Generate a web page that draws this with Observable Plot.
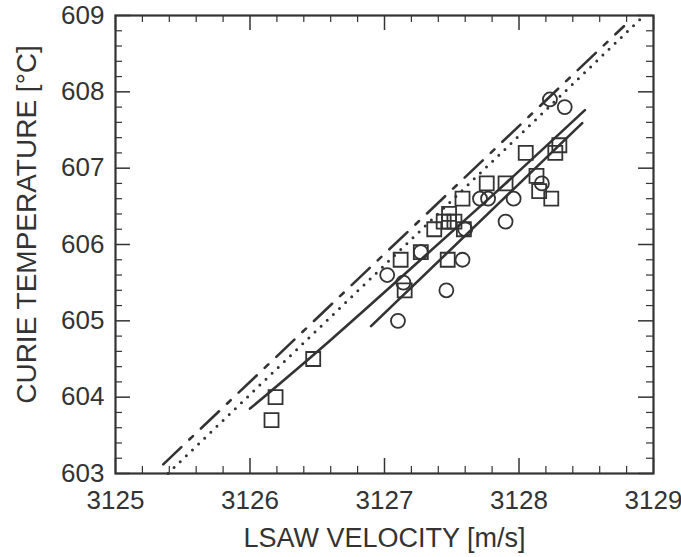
<!DOCTYPE html>
<html><head><meta charset="utf-8">
<script src="https://cdn.jsdelivr.net/npm/d3@7"></script>
<script src="https://cdn.jsdelivr.net/npm/@observablehq/plot@0.6"></script>
<style>body{margin:0;background:#fff}</style>
</head><body><div id="chart"></div>
<script>
// Squares
const squareX = [3126.16,3126.19,3126.47,3127.12,3127.15,3127.27,3127.37,3127.47,3127.44,3127.48,3127.52,3127.48,3127.58,3127.59,3127.76,3127.90,3128.05,3128.13,3128.15,3128.24,3128.27,3128.30];
const squareY = [603.7,604.0,604.5,605.8,605.4,605.9,606.2,605.8,606.3,606.3,606.3,606.4,606.6,606.2,606.8,606.8,607.2,606.9,606.7,606.6,607.2,607.3];
// Circles
const circleX = [3127.02,3127.10,3127.14,3127.27,3127.46,3127.58,3127.60,3127.71,3127.77,3127.96,3127.90,3128.17,3128.23,3128.34];
const circleY = [605.6,605.0,605.5,605.9,605.4,605.8,606.2,606.6,606.6,606.6,606.3,606.8,607.9,607.8];
// Lines
const dashDotX = [3125.355,3128.78];
const dashDotY = [603.12,608.86];
const dottedX = [3125.39,3128.93];
const dottedY = [603.0,609.0];
const curveX = [3126.0,3126.6,3127.3,3127.9,3128.49];
const curveY = [603.85,604.75,605.85,606.8,607.76];
const straightX = [3126.90,3128.47];
const straightY = [604.93,607.59];
// Ticks
const xMajor = [3125,3126,3127,3128,3129];
const yMajor = [603,604,605,606,607,608,609];
const xMinor = d3.range(3125.2,3129,0.2).filter(v => Math.abs(v-Math.round(v))>0.05);
const yMinor = d3.range(603.2,609,0.2).filter(v => Math.abs(v-Math.round(v))>0.05);
const xTitle = "LSAW VELOCITY [m/s]";
const yTitle = "CURIE TEMPERATURE [°C]";

const W=681,H=557,mL=115,mR=28,mT=15,mB=84;
const iW=W-mL-mR, iH=H-mT-mB;
const ink="#333";
const majL=15, minL=7;
const fs=26;

const chart = Plot.plot({
  width:W, height:H, marginLeft:mL, marginRight:mR, marginTop:mT, marginBottom:mB,
  x:{domain:[3125,3129]}, y:{domain:[603,609]},
  style:{fontFamily:"'Liberation Sans', Arial, sans-serif", fontSize:fs+"px", color:ink, background:"#fff", overflow:"visible"},
  marks:[
    Plot.tickX(xMajor,{x:d=>d, insetTop:iH-majL, stroke:ink, strokeWidth:1.5}),
    Plot.tickX(xMinor,{x:d=>d, insetTop:iH-minL, stroke:ink, strokeWidth:1.2}),
    Plot.tickX(xMajor,{x:d=>d, insetBottom:iH-majL, stroke:ink, strokeWidth:1.5}),
    Plot.tickX(xMinor,{x:d=>d, insetBottom:iH-minL, stroke:ink, strokeWidth:1.2}),
    Plot.tickY(yMajor,{y:d=>d, insetRight:iW-majL, stroke:ink, strokeWidth:1.5}),
    Plot.tickY(yMinor,{y:d=>d, insetRight:iW-minL, stroke:ink, strokeWidth:1.2}),
    Plot.tickY(yMajor,{y:d=>d, insetLeft:iW-majL, stroke:ink, strokeWidth:1.5}),
    Plot.tickY(yMinor,{y:d=>d, insetLeft:iW-minL, stroke:ink, strokeWidth:1.2}),
    Plot.axisX(xMajor,{tickSize:0, tickPadding:17, tickFormat:d=>String(d), label:null, fontSize:fs}),
    Plot.axisY(yMajor,{tickSize:0, tickPadding:11, tickFormat:d=>String(d), label:null, fontSize:fs}),
    Plot.line(dashDotX,{x:dashDotX, y:dashDotY, stroke:ink, strokeWidth:2.6, strokeDasharray:"25,11,5,11"}),
    Plot.line(dottedX,{x:dottedX, y:dottedY, stroke:ink, strokeWidth:3, strokeLinecap:"round", strokeDasharray:"0,8.5"}),
    Plot.line(curveX,{x:curveX, y:curveY, stroke:ink, strokeWidth:2.6, curve:"natural"}),
    Plot.line(straightX,{x:straightX, y:straightY, stroke:ink, strokeWidth:2.6}),
    Plot.dot(squareX,{x:squareX, y:squareY, symbol:"square", r:7.9, stroke:ink, strokeWidth:1.8, fill:"none"}),
    Plot.dot(circleX,{x:circleX, y:circleY, symbol:"circle", r:7, stroke:ink, strokeWidth:1.8, fill:"none"}),
    Plot.frame({stroke:ink, strokeWidth:2.2}),
    Plot.text([xTitle],{text:d=>d, frameAnchor:"bottom", textAnchor:"middle", dy:73, fontSize:27, fill:ink}),
    Plot.text([yTitle],{text:d=>d, frameAnchor:"left", textAnchor:"middle", rotate:-90, dx:-88, dy:-20, fontSize:28, fill:ink})
  ]
});
document.getElementById("chart").appendChild(chart);
</script>
</body></html>
